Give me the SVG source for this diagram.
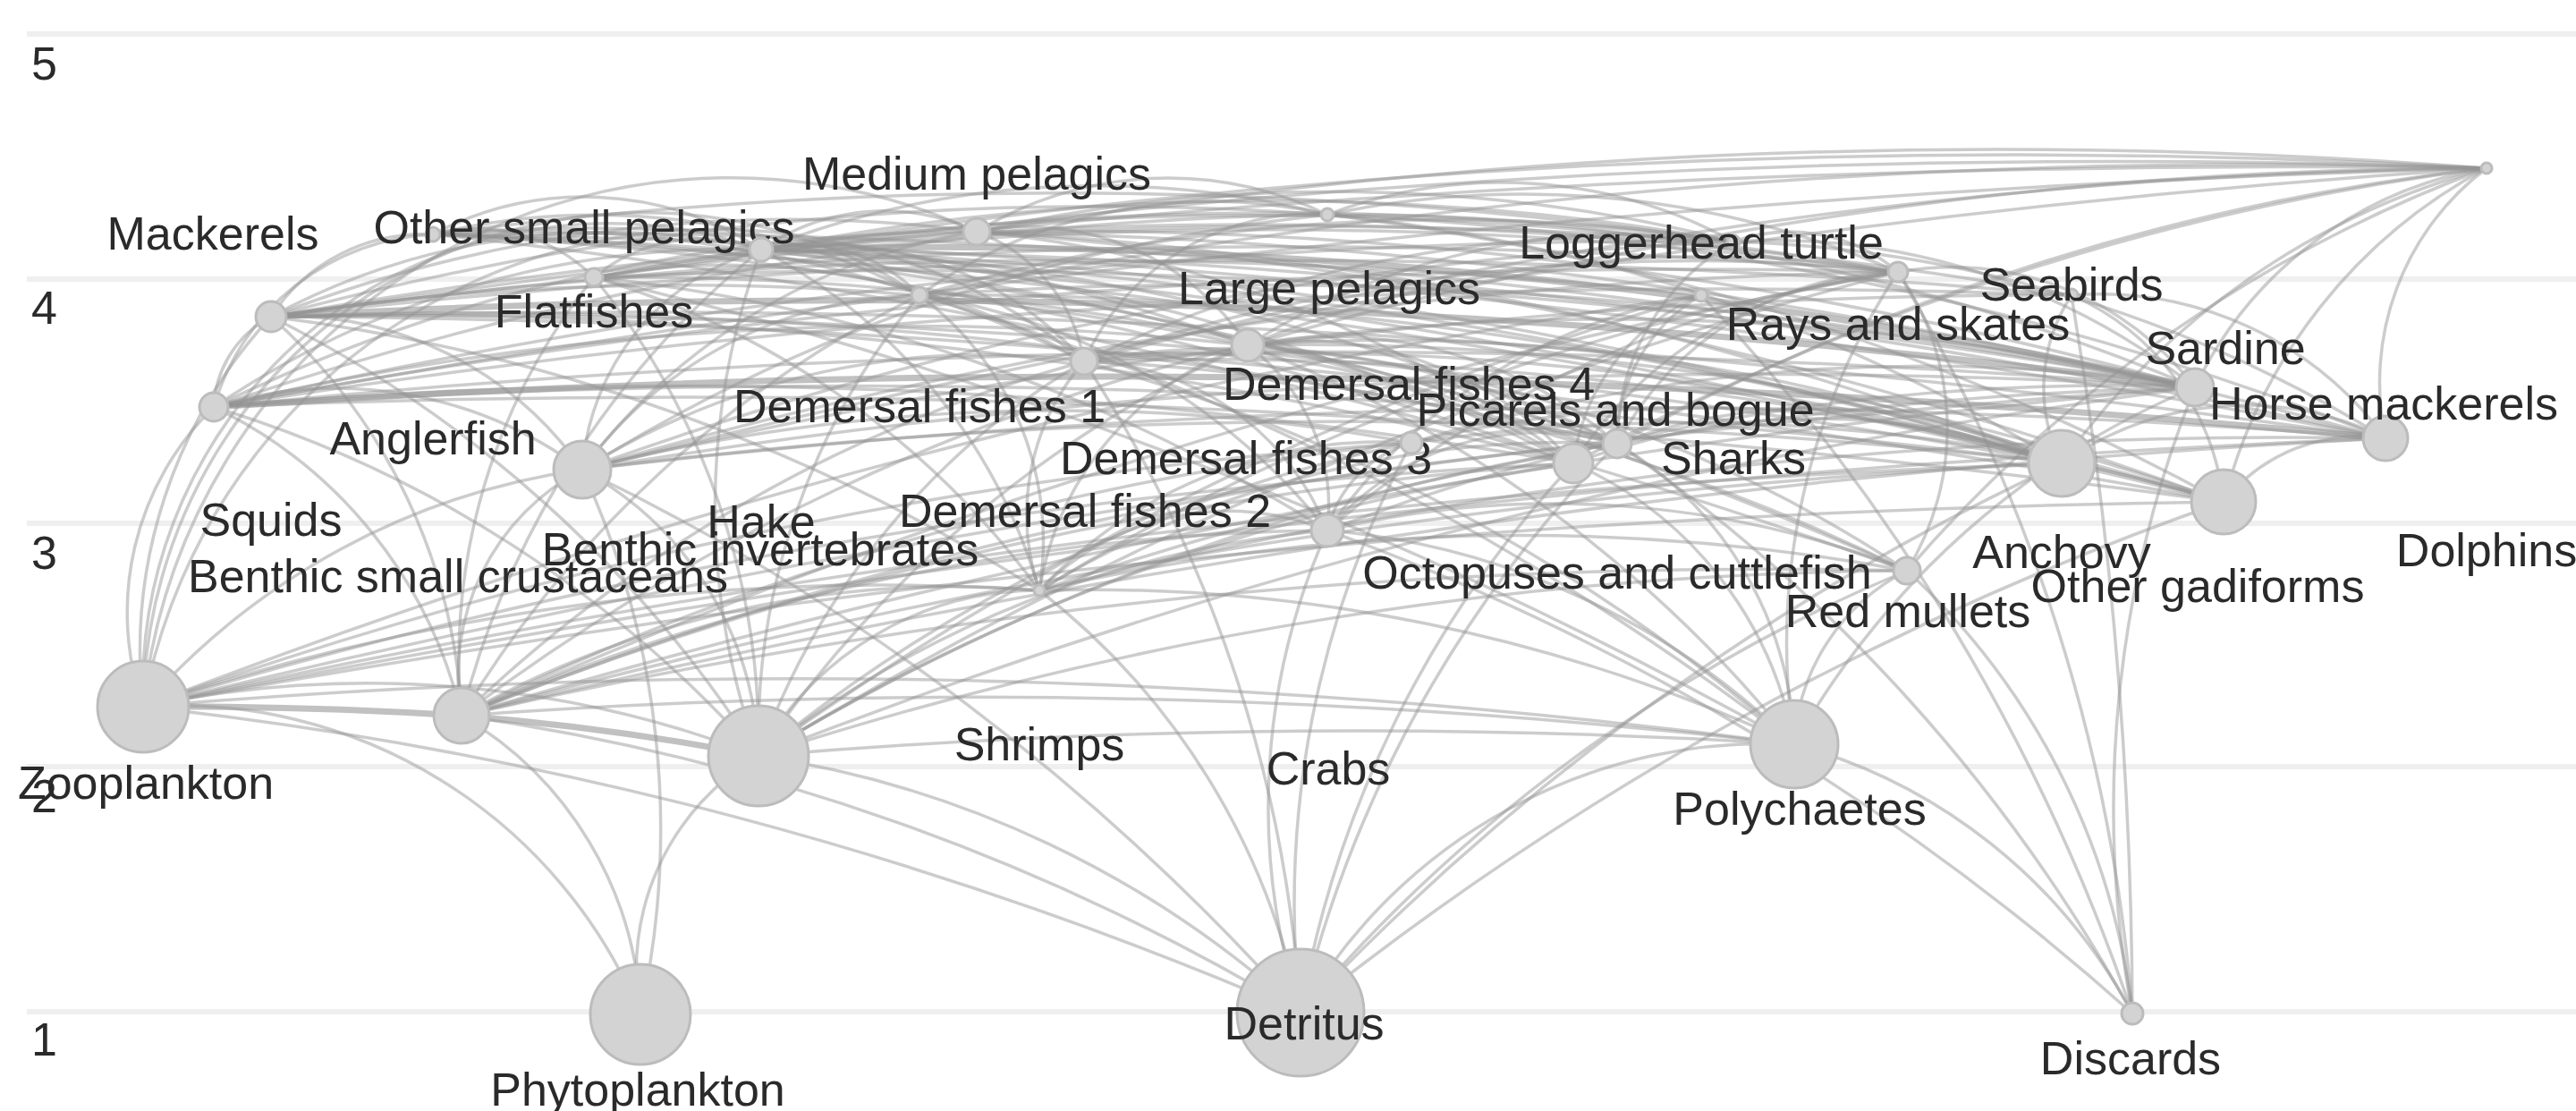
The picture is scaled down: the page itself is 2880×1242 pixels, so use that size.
<svg xmlns="http://www.w3.org/2000/svg" width="2880" height="1242" viewBox="0 0 2880 1242">
<style>
.grid line{stroke:#efefef;stroke-width:6}
.axis text{font-family:"Liberation Sans",Arial,sans-serif;font-size:52px;fill:#2a2a2a}
#edges path{fill:none;stroke:#959595;stroke-opacity:0.48;stroke-width:3.5}
#edges path.t{stroke-width:7;stroke-opacity:0.58}
.node circle{fill:#d3d3d3;stroke:#bcbcbc;stroke-width:3}
.node text{font-family:"Liberation Sans",Arial,sans-serif;font-size:52px;fill:#2a2a2a;text-anchor:middle}
</style>
<rect width="2880" height="1242" fill="#fff"/>
<g class="grid">
<line x1="30" y1="38" x2="2880" y2="38"/>
<line x1="30" y1="312" x2="2880" y2="312"/>
<line x1="30" y1="585" x2="2880" y2="585"/>
<line x1="30" y1="857" x2="2880" y2="857"/>
<line x1="30" y1="1131" x2="2880" y2="1131"/>
</g>
<g class="axis">
<text x="35" y="89">5</text>
<text x="35" y="362">4</text>
<text x="35" y="636">3</text>
<text x="35" y="908">2</text>
<text x="35" y="1180">1</text>
</g>
<g id="edges">
<path d="M160 790A560 560 0 0 1 716 1134"/>
<path d="M160 790A4503 4503 0 0 1 1454 1132"/>
<path class="t" d="M160 790A5000 5000 0 0 1 516 800"/>
<path d="M516 800A404 404 0 0 1 716 1134"/>
<path d="M516 800A2500 2500 0 0 1 1454 1132"/>
<path d="M160 790A1216 1216 0 0 1 848 845"/>
<path d="M716 1134A277 277 0 0 1 848 845"/>
<path d="M848 845A1149 1149 0 0 1 1454 1132"/>
<path class="t" d="M516 800A3000 3000 0 0 1 848 845"/>
<path d="M848 845A8000 8000 0 0 1 2006 832"/>
<path d="M516 800A8000 8000 0 0 1 2006 832"/>
<path d="M1454 1132A600 600 0 0 1 2006 832"/>
<path d="M160 790A8549 8549 0 0 1 2006 832"/>
<path d="M2006 832A609 609 0 0 1 2384 1133"/>
<path d="M1162 660A795 795 0 0 1 1454 1132"/>
<path d="M516 800A1117 1117 0 0 1 1162 660"/>
<path d="M848 845A357 357 0 0 1 1162 660"/>
<path d="M160 790A2577 2577 0 0 1 1162 660"/>
<path d="M1162 660A1880 1880 0 0 1 2006 832"/>
<path d="M1454 1132A754 754 0 0 1 1484 593"/>
<path d="M848 845A1195 1195 0 0 1 1484 593"/>
<path d="M1484 593A849 849 0 0 1 2006 832"/>
<path d="M516 800A2475 2475 0 0 1 1484 593"/>
<path d="M1484 593A2779 2779 0 0 1 2384 1133"/>
<path d="M1162 660A295 295 0 0 1 1484 593"/>
<path d="M160 790A11713 11713 0 0 1 2305 518"/>
<path d="M516 800A8225 8225 0 0 1 2305 518"/>
<path d="M160 790A13682 13682 0 0 1 2486 561"/>
<path d="M1454 1132A3503 3503 0 0 1 2486 561"/>
<path d="M160 790A803 803 0 0 1 651 525"/>
<path d="M516 800A260 260 0 0 1 651 525"/>
<path d="M651 525A963 963 0 0 1 716 1134"/>
<path d="M160 790A15963 15963 0 0 1 2667 490"/>
<path d="M516 800A11832 11832 0 0 1 2667 490"/>
<path d="M2305 518A355 355 0 0 1 2667 490"/>
<path d="M2486 561A194 194 0 0 1 2667 490"/>
<path d="M1162 660A5760 5760 0 0 1 2667 490"/>
<path d="M160 790A321 321 0 0 1 239 455"/>
<path d="M239 455A10706 10706 0 0 1 2305 518"/>
<path d="M239 455A12676 12676 0 0 1 2486 561"/>
<path d="M239 455A462 462 0 0 1 651 525"/>
<path d="M239 455A514 514 0 0 1 516 800"/>
<path d="M239 455A120 120 0 0 1 303 354"/>
<path d="M516 800A6619 6619 0 0 1 2132 638"/>
<path d="M848 845A4254 4254 0 0 1 2132 638"/>
<path d="M2006 832A231 231 0 0 1 2132 638"/>
<path d="M1484 593A1080 1080 0 0 1 2132 638"/>
<path d="M1162 660A2378 2378 0 0 1 2132 638"/>
<path d="M1484 593A311 311 0 0 1 1808 496"/>
<path d="M848 845A2634 2634 0 0 1 1808 496"/>
<path d="M516 800A4429 4429 0 0 1 1808 496"/>
<path d="M1162 660A1136 1136 0 0 1 1808 496"/>
<path d="M1808 496A405 405 0 0 1 2006 832"/>
<path d="M1212 404A934 934 0 0 1 1808 496"/>
<path d="M1808 496A1869 1869 0 0 1 2384 1133"/>
<path d="M160 790A6602 6602 0 0 1 1759 518"/>
<path d="M516 800A4086 4086 0 0 1 1759 518"/>
<path d="M1759 518A424 424 0 0 1 2006 832"/>
<path d="M848 845A2367 2367 0 0 1 1759 518"/>
<path d="M160 790A551 551 0 0 1 303 354"/>
<path d="M303 354A10112 10112 0 0 1 2305 518"/>
<path d="M303 354A12046 12046 0 0 1 2486 561"/>
<path d="M303 354A401 401 0 0 1 651 525"/>
<path d="M303 354A636 636 0 0 1 516 800"/>
<path d="M303 354A2104 2104 0 0 1 1162 660"/>
<path d="M516 800A1233 1233 0 0 1 1028 330"/>
<path d="M848 845A769 769 0 0 1 1028 330"/>
<path d="M1028 330A3046 3046 0 0 1 2006 832"/>
<path d="M1028 330A342 342 0 0 1 1162 660"/>
<path d="M1028 330A718 718 0 0 1 1484 593"/>
<path d="M516 800A1628 1628 0 0 1 1212 404"/>
<path d="M848 845A842 842 0 0 1 1212 404"/>
<path d="M1212 404A2059 2059 0 0 1 2006 832"/>
<path d="M1162 660A261 261 0 0 1 1212 404"/>
<path d="M1212 404A299 299 0 0 1 1484 593"/>
<path d="M1212 404A2278 2278 0 0 1 2132 638"/>
<path d="M160 790A650 650 0 0 1 1212 404"/>
<path d="M516 800A2385 2385 0 0 1 1395 386"/>
<path d="M848 845A1300 1300 0 0 1 1395 386"/>
<path d="M1395 386A1456 1456 0 0 1 2006 832"/>
<path d="M1162 660A348 348 0 0 1 1395 386"/>
<path d="M1395 386A225 225 0 0 1 1484 593"/>
<path d="M1395 386A400 400 0 0 1 1759 518"/>
<path d="M1395 386A2139 2139 0 0 1 2305 518"/>
<path d="M1395 386A3077 3077 0 0 1 2486 561"/>
<path d="M1395 386A482 482 0 0 1 1808 496"/>
<path d="M516 800A3077 3077 0 0 1 1578 495"/>
<path d="M848 845A1664 1664 0 0 1 1578 495"/>
<path d="M1162 660A526 526 0 0 1 1578 495"/>
<path d="M1484 593A136 136 0 0 1 1578 495"/>
<path d="M651 525A2176 2176 0 0 1 1578 495"/>
<path d="M1578 495A1348 1348 0 0 1 2305 518"/>
<path d="M516 800A9751 9751 0 0 1 2454 433"/>
<path d="M1162 660A4327 4327 0 0 1 2454 433"/>
<path d="M160 790A13500 13500 0 0 1 2454 433"/>
<path d="M848 845A6897 6897 0 0 1 2454 433"/>
<path d="M2006 832A925 925 0 0 1 2454 433"/>
<path d="M1484 593A2441 2441 0 0 1 2454 433"/>
<path d="M851 279A5453 5453 0 0 1 2305 518"/>
<path d="M851 279A6907 6907 0 0 1 2486 561"/>
<path d="M651 525A276 276 0 0 1 851 279"/>
<path d="M851 279A8381 8381 0 0 1 2667 490"/>
<path d="M239 455A1039 1039 0 0 1 851 279"/>
<path d="M303 354A790 790 0 0 1 851 279"/>
<path d="M516 800A984 984 0 0 1 851 279"/>
<path d="M851 279A630 630 0 0 1 1162 660"/>
<path d="M851 279A184 184 0 0 1 1028 330"/>
<path d="M851 279A390 390 0 0 1 1212 404"/>
<path d="M851 279A2229 2229 0 0 1 1759 518"/>
<path class="t" d="M851 279A6508 6508 0 0 1 2454 433"/>
<path d="M851 279A4450 4450 0 0 1 2132 638"/>
<path d="M516 800A680 680 0 0 1 664 310"/>
<path d="M664 310A825 825 0 0 1 848 845"/>
<path d="M664 310A5209 5209 0 0 1 2006 832"/>
<path d="M664 310A951 951 0 0 1 1162 660"/>
<path d="M664 310A1906 1906 0 0 1 1484 593"/>
<path d="M664 310A798 798 0 0 1 1212 404"/>
<path d="M484 262A362 362 0 0 1 851 279"/>
<path d="M484 262A776 776 0 0 1 1028 330"/>
<path d="M484 262A1400 1400 0 0 1 1212 404"/>
<path d="M484 262A2138 2138 0 0 1 1395 386"/>
<path d="M484 262A186 186 0 0 1 664 310"/>
<path d="M303 354A203 203 0 0 1 484 262"/>
<path d="M484 262A4544 4544 0 0 1 1808 496"/>
<path d="M484 262A9800 9800 0 0 1 2454 433"/>
<path d="M484 262A7168 7168 0 0 1 2132 638"/>
<path d="M484 262A12069 12069 0 0 1 2667 490"/>
<path d="M516 800A7088 7088 0 0 1 2122 304"/>
<path d="M848 845A4814 4814 0 0 1 2122 304"/>
<path d="M1484 593A1251 1251 0 0 1 2122 304"/>
<path d="M1162 660A2646 2646 0 0 1 2122 304"/>
<path d="M2006 832A756 756 0 0 1 2122 304"/>
<path d="M1212 404A2120 2120 0 0 1 2122 304"/>
<path d="M664 310A5339 5339 0 0 1 2122 304"/>
<path d="M1808 496A364 364 0 0 1 2122 304"/>
<path d="M2122 304A304 304 0 0 1 2132 638"/>
<path d="M2122 304A342 342 0 0 1 2454 433"/>
<path d="M1092 259A3871 3871 0 0 1 2305 518"/>
<path d="M1092 259A5111 5111 0 0 1 2486 561"/>
<path d="M651 525A688 688 0 0 1 1092 259"/>
<path d="M1092 259A6360 6360 0 0 1 2667 490"/>
<path d="M239 455A1940 1940 0 0 1 1092 259"/>
<path d="M303 354A1604 1604 0 0 1 1092 259"/>
<path d="M1092 259A1305 1305 0 0 1 1759 518"/>
<path d="M1092 259A410 410 0 0 1 1484 240"/>
<path d="M239 455A4016 4016 0 0 1 1484 240"/>
<path d="M303 354A3544 3544 0 0 1 1484 240"/>
<path d="M1484 240A3680 3680 0 0 1 2667 490"/>
<path d="M1484 240A2793 2793 0 0 1 2486 561"/>
<path d="M1484 240A1903 1903 0 0 1 2305 518"/>
<path d="M651 525A1963 1963 0 0 1 1484 240"/>
<path d="M851 279A1031 1031 0 0 1 1484 240"/>
<path d="M851 279A2979 2979 0 0 1 1938 270"/>
<path d="M1028 330A2104 2104 0 0 1 1938 270"/>
<path d="M1395 386A796 796 0 0 1 1938 270"/>
<path d="M303 354A6726 6726 0 0 1 1938 270"/>
<path d="M1808 496A261 261 0 0 1 1938 270"/>
<path d="M1938 270A187 187 0 0 1 2122 304"/>
<path d="M664 310A4087 4087 0 0 1 1938 270"/>
<path d="M1938 270A1475 1475 0 0 1 2667 490"/>
<path d="M239 455A7327 7327 0 0 1 1938 270"/>
<path d="M1938 270A757 757 0 0 1 2454 433"/>
<path d="M484 262A5310 5310 0 0 1 1938 270"/>
<path d="M1092 259A1815 1815 0 0 1 1938 270"/>
<path d="M1484 593A635 635 0 0 1 1902 330"/>
<path d="M848 845A3465 3465 0 0 1 1902 330"/>
<path d="M303 354A6419 6419 0 0 1 1902 330"/>
<path d="M1902 330A2218 2218 0 0 1 2384 1133"/>
<path d="M160 790A8140 8140 0 0 1 1902 330"/>
<path d="M1808 496A191 191 0 0 1 1902 330"/>
<path d="M2305 518A188 188 0 0 1 2316 330"/>
<path d="M2316 330A287 287 0 0 1 2486 561"/>
<path d="M2316 330A5000 5000 0 0 1 2384 1133"/>
<path d="M651 525A7051 7051 0 0 1 2316 330"/>
<path d="M2316 330A397 397 0 0 1 2667 490"/>
<path d="M303 354A10156 10156 0 0 1 2316 330"/>
<path d="M851 279A9348 9348 0 0 1 2780 188"/>
<path d="M2305 518A861 861 0 0 1 2780 188"/>
<path d="M2486 561A589 589 0 0 1 2780 188"/>
<path d="M651 525A11641 11641 0 0 1 2780 188"/>
<path d="M2667 490A300 300 0 0 1 2780 188"/>
<path d="M239 455A16345 16345 0 0 1 2780 188"/>
<path d="M303 354A15433 15433 0 0 1 2780 188"/>
<path d="M1808 496A2624 2624 0 0 1 2780 188"/>
<path d="M1212 404A6288 6288 0 0 1 2780 188"/>
<path d="M1395 386A4919 4919 0 0 1 2780 188"/>
<path d="M2454 433A441 441 0 0 1 2780 188"/>
<path d="M1092 259A7161 7161 0 0 1 2780 188"/>
<path d="M1759 518A2903 2903 0 0 1 2780 188"/>
<path d="M2132 638A1581 1581 0 0 1 2780 188"/>
<path d="M664 310A11256 11256 0 0 1 2780 188"/>
<path d="M1028 330A7749 7749 0 0 1 2780 188"/>
<path d="M160 790A520 520 0 0 1 851 279"/>
<path d="M160 790A660 660 0 0 1 1092 259"/>
<path d="M160 790A560 560 0 0 1 1028 330"/>
<path d="M160 790A5269 5269 0 0 1 1578 495"/>
<path d="M2122 304A1915 1915 0 0 1 2384 1133"/>
<path d="M2384 1133A1262 1262 0 0 1 2454 433"/>
<path d="M2132 638A796 796 0 0 1 2384 1133"/>
<path d="M651 525A2558 2558 0 0 1 1454 1132"/>
<path d="M1454 1132A2778 2778 0 0 1 2305 518"/>
<path d="M1454 1132A1784 1784 0 0 1 2132 638"/>
<path d="M1454 1132A1078 1078 0 0 1 1578 495"/>
<path d="M1454 1132A1350 1350 0 0 1 1808 496"/>
<path d="M1454 1132A1200 1200 0 0 1 1759 518"/>
<path d="M1212 404A1496 1496 0 0 1 1454 1132"/>
<path class="t" d="M303 354A11608 11608 0 0 1 2454 433"/>
<path class="t" d="M239 455A14766 14766 0 0 1 2667 490"/>
<path d="M239 455A12292 12292 0 0 1 2454 433"/>
<path d="M239 455A5811 5811 0 0 1 1759 518"/>
<path d="M303 354A14042 14042 0 0 1 2667 490"/>
<path d="M303 354A5392 5392 0 0 1 1759 518"/>
<path d="M303 354A5738 5738 0 0 1 1808 496"/>
<path d="M303 354A8303 8303 0 0 1 2122 304"/>
<path d="M484 262A8479 8479 0 0 1 2305 518"/>
<path d="M484 262A10269 10269 0 0 1 2486 561"/>
<path d="M484 262A4253 4253 0 0 1 1759 518"/>
<path d="M664 310A3383 3383 0 0 1 1808 496"/>
<path d="M664 310A8073 8073 0 0 1 2454 433"/>
<path d="M1092 259A295 295 0 0 1 1395 386"/>
<path d="M1092 259A188 188 0 0 1 1212 404"/>
<path d="M1484 240A543 543 0 0 1 1938 270"/>
<path d="M1484 240A1053 1053 0 0 1 2122 304"/>
<path d="M1484 240A2470 2470 0 0 1 2454 433"/>
<path d="M1092 259A4738 4738 0 0 1 2454 433"/>
<path d="M851 279A2432 2432 0 0 1 1808 496"/>
<path d="M851 279A4065 4065 0 0 1 2122 304"/>
<path d="M851 279A5397 5397 0 0 1 2316 330"/>
<path d="M1028 330A4190 4190 0 0 1 2305 518"/>
<path d="M1028 330A5135 5135 0 0 1 2454 433"/>
<path d="M1212 404A3044 3044 0 0 1 2305 518"/>
<path d="M1212 404A4144 4144 0 0 1 2486 561"/>
<path d="M1212 404A806 806 0 0 1 1759 518"/>
<path d="M1395 386A2834 2834 0 0 1 2454 433"/>
<path d="M1395 386A1542 1542 0 0 1 2132 638"/>
<path d="M1578 495A1953 1953 0 0 1 2454 433"/>
<path d="M1578 495A2097 2097 0 0 1 2486 561"/>
<path d="M1759 518A770 770 0 0 1 2305 518"/>
<path d="M1808 496A644 644 0 0 1 2305 518"/>
<path d="M651 525A8173 8173 0 0 1 2454 433"/>
<path d="M651 525A10189 10189 0 0 1 2667 490"/>
<path d="M651 525A4328 4328 0 0 1 1938 270"/>
<path d="M651 525A6864 6864 0 0 1 2305 518"/>
<path d="M651 525A5557 5557 0 0 1 2122 304"/>
<path d="M239 455A8946 8946 0 0 1 2122 304"/>
<path d="M239 455A10849 10849 0 0 1 2316 330"/>
<path d="M851 279A242 242 0 0 1 1092 259"/>
<path d="M1028 330A565 565 0 0 1 1484 240"/>
<path d="M1212 404A277 277 0 0 1 1484 240"/>
<path d="M1212 404A1388 1388 0 0 1 1938 270"/>
<path d="M1395 386A1363 1363 0 0 1 2122 304"/>
<path d="M1759 518A469 469 0 0 1 2122 304"/>
<path d="M1759 518A236 236 0 0 1 1902 330"/>
<path d="M303 354A3009 3009 0 0 1 1395 386"/>
<path d="M239 455A3378 3378 0 0 1 1395 386"/>
<path d="M664 310A190 190 0 0 1 851 279"/>
<path d="M239 455A268 268 0 0 1 484 262"/>
<path d="M651 525A475 475 0 0 1 1028 330"/>
<path d="M651 525A848 848 0 0 1 1212 404"/>
<path d="M848 845A826 826 0 0 1 851 279"/>
<path d="M303 354A1370 1370 0 0 1 848 845"/>
<path d="M239 455A1332 1332 0 0 1 848 845"/>
<path d="M651 525A378 378 0 0 1 848 845"/>
</g>
<g id="node-zooplankton" class="node"><circle cx="160" cy="790" r="51"/><text x="163" y="893">Zooplankton</text></g>
<g id="node-phytoplankton" class="node"><circle cx="716" cy="1134" r="56"/><text x="713" y="1236">Phytoplankton</text></g>
<g id="node-detritus" class="node"><circle cx="1454" cy="1132" r="71"/><text x="1458" y="1162">Detritus</text></g>
<g id="node-discards" class="node"><circle cx="2384" cy="1133" r="12"/><text x="2382" y="1201">Discards</text></g>
<g id="node-benthic-small-crustaceans" class="node"><circle cx="516" cy="800" r="31"/><text x="512" y="662">Benthic small crustaceans</text></g>
<g id="node-benthic-invertebrates" class="node"><circle cx="848" cy="845" r="56"/><text x="850" y="632">Benthic invertebrates</text></g>
<g id="node-polychaetes" class="node"><circle cx="2006" cy="832" r="49"/><text x="2012" y="922">Polychaetes</text></g>
<g id="node-shrimps" class="node"><circle cx="1162" cy="660" r="6"/><text x="1162" y="850">Shrimps</text></g>
<g id="node-crabs" class="node"><circle cx="1484" cy="593" r="18"/><text x="1485" y="877">Crabs</text></g>
<g id="node-mackerels" class="node"><circle cx="239" cy="455" r="16"/><text x="238" y="279">Mackerels</text></g>
<g id="node-squids" class="node"><circle cx="303" cy="354" r="17"/><text x="303" y="599">Squids</text></g>
<g id="node-anglerfish" class="node"><circle cx="484" cy="262" r="8"/><text x="484" y="508">Anglerfish</text></g>
<g id="node-other-small-pelagics" class="node"><circle cx="651" cy="525" r="32"/><text x="653" y="272">Other small pelagics</text></g>
<g id="node-flatfishes" class="node"><circle cx="664" cy="310" r="10"/><text x="664" y="366">Flatfishes</text></g>
<g id="node-hake" class="node"><circle cx="851" cy="279" r="13"/><text x="851" y="601">Hake</text></g>
<g id="node-medium-pelagics" class="node"><circle cx="1092" cy="259" r="15"/><text x="1092" y="212">Medium pelagics</text></g>
<g id="node-demersal-fishes-1" class="node"><circle cx="1028" cy="330" r="9"/><text x="1028" y="472">Demersal fishes 1</text></g>
<g id="node-demersal-fishes-2" class="node"><circle cx="1212" cy="404" r="15"/><text x="1213" y="589">Demersal fishes 2</text></g>
<g id="node-demersal-fishes-3" class="node"><circle cx="1395" cy="386" r="18"/><text x="1393" y="530">Demersal fishes 3</text></g>
<g id="node-demersal-fishes-4" class="node"><circle cx="1578" cy="495" r="12"/><text x="1575" y="447">Demersal fishes 4</text></g>
<g id="node-large-pelagics" class="node"><circle cx="1484" cy="240" r="7"/><text x="1486" y="340">Large pelagics</text></g>
<g id="node-octopuses-and-cuttlefish" class="node"><circle cx="1808" cy="496" r="16"/><text x="1808" y="658">Octopuses and cuttlefish</text></g>
<g id="node-picarels-and-bogue" class="node"><circle cx="1759" cy="518" r="22"/><text x="1806" y="476">Picarels and bogue</text></g>
<g id="node-sharks" class="node"><circle cx="1938" cy="270" r="7"/><text x="1938" y="530">Sharks</text></g>
<g id="node-loggerhead-turtle" class="node"><circle cx="1902" cy="330" r="7"/><text x="1902" y="289">Loggerhead turtle</text></g>
<g id="node-rays-and-skates" class="node"><circle cx="2122" cy="304" r="11"/><text x="2122" y="380">Rays and skates</text></g>
<g id="node-red-mullets" class="node"><circle cx="2132" cy="638" r="15"/><text x="2133" y="701">Red mullets</text></g>
<g id="node-seabirds" class="node"><circle cx="2316" cy="330" r="7"/><text x="2316" y="336">Seabirds</text></g>
<g id="node-anchovy" class="node"><circle cx="2305" cy="518" r="37"/><text x="2305" y="635">Anchovy</text></g>
<g id="node-other-gadiforms" class="node"><circle cx="2454" cy="433" r="21"/><text x="2457" y="673">Other gadiforms</text></g>
<g id="node-sardine" class="node"><circle cx="2486" cy="561" r="36"/><text x="2488" y="407">Sardine</text></g>
<g id="node-horse-mackerels" class="node"><circle cx="2667" cy="490" r="25"/><text x="2665" y="469">Horse mackerels</text></g>
<g id="node-dolphins" class="node"><circle cx="2780" cy="188" r="6"/><text x="2780" y="633">Dolphins</text></g>
</svg>
